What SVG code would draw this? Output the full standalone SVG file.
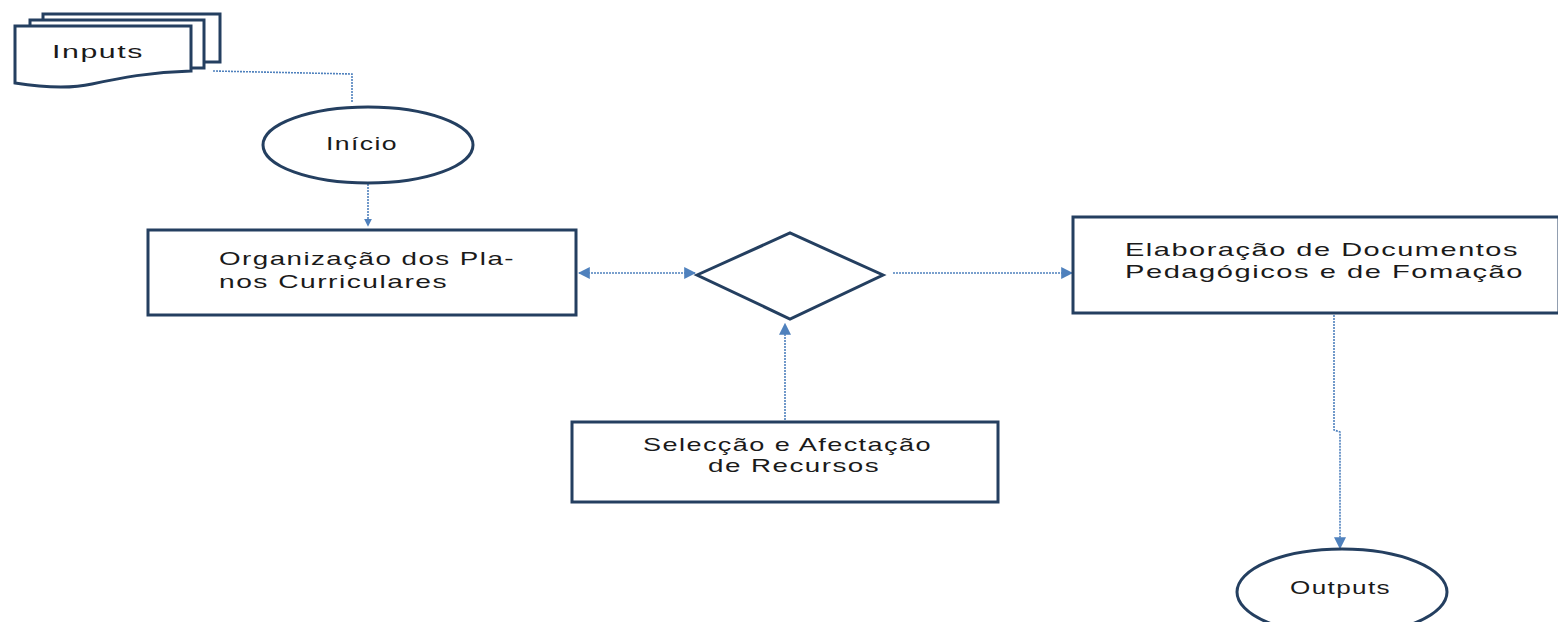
<svg xmlns="http://www.w3.org/2000/svg" width="1558" height="622" viewBox="0 0 1558 622">
<style>
.node{fill:#fff;stroke:#243f60;stroke-width:3}
.conn{fill:none;stroke:#4f81bd;stroke-width:1.6;stroke-dasharray:2 1}
.lbl{font-family:"Liberation Sans",sans-serif;font-size:19px;letter-spacing:1px;fill:#1a1a1a}
</style>
<defs>
<marker id="ah" viewBox="0 0 10 10" refX="9" refY="5" markerWidth="8" markerHeight="8" orient="auto-start-reverse" markerUnits="userSpaceOnUse">
<path d="M0,0 L10,5 L0,10 z" fill="#4f81bd"/>
</marker>
<marker id="ahb" viewBox="0 0 10 10" refX="9" refY="5" markerWidth="12" markerHeight="12" orient="auto-start-reverse" markerUnits="userSpaceOnUse">
<path d="M0,0 L10,5 L0,10 z" fill="#4f81bd"/>
</marker>
</defs>
<rect width="1558" height="622" fill="#fff"/>
<g id="connectors">
<polyline class="conn" points="213,71 352,74 352,102"/>
<line class="conn" x1="368" y1="184" x2="368" y2="226" marker-end="url(#ah)"/>
<line class="conn" x1="579" y1="273" x2="695" y2="273" marker-start="url(#ahb)" marker-end="url(#ahb)"/>
<line class="conn" x1="893" y1="273" x2="1072" y2="273" marker-end="url(#ahb)"/>
<line class="conn" x1="785" y1="420" x2="785" y2="324" marker-end="url(#ahb)"/>
<polyline class="conn" points="1334,315 1334,430 1340,432 1340,548" marker-end="url(#ahb)"/>
</g>
<g id="inputs">
<rect class="node" x="43" y="14" width="177" height="48"/>
<rect class="node" x="30" y="20" width="174" height="48"/>
<path class="node" d="M15,26 L191,26 L191,71 C150,72 120,78 92,84 C70,89 40,87 15,83 Z"/>
<text class="lbl" x="52" y="58" textLength="92" lengthAdjust="spacingAndGlyphs">Inputs</text>
</g>
<g id="inicio">
<ellipse class="node" cx="368" cy="145" rx="105" ry="38"/>
<text class="lbl" x="326" y="150" textLength="72" lengthAdjust="spacingAndGlyphs">Início</text>
</g>
<g id="organizacao">
<rect class="node" x="148" y="230" width="428" height="85"/>
<text class="lbl" x="219" y="265" textLength="296" lengthAdjust="spacingAndGlyphs">Organização dos Pla-</text>
<text class="lbl" x="219" y="288" textLength="229" lengthAdjust="spacingAndGlyphs">nos Curriculares</text>
</g>
<g id="decisao">
<polygon class="node" points="697,275 790,233 883,275 790,319"/>
</g>
<g id="elaboracao">
<rect class="node" x="1073" y="217" width="486" height="96"/>
<text class="lbl" x="1125" y="256" textLength="394" lengthAdjust="spacingAndGlyphs">Elaboração de Documentos</text>
<text class="lbl" x="1125" y="278" textLength="399" lengthAdjust="spacingAndGlyphs">Pedagógicos e de Fomação</text>
</g>
<g id="selecao">
<rect class="node" x="572" y="422" width="426" height="80"/>
<text class="lbl" x="643" y="451" textLength="289" lengthAdjust="spacingAndGlyphs">Selecção e Afectação</text>
<text class="lbl" x="708" y="472" textLength="172" lengthAdjust="spacingAndGlyphs">de Recursos</text>
</g>
<g id="outputs">
<ellipse class="node" cx="1342" cy="592" rx="105" ry="43"/>
<text class="lbl" x="1290" y="594" textLength="101" lengthAdjust="spacingAndGlyphs">Outputs</text>
</g>
</svg>
